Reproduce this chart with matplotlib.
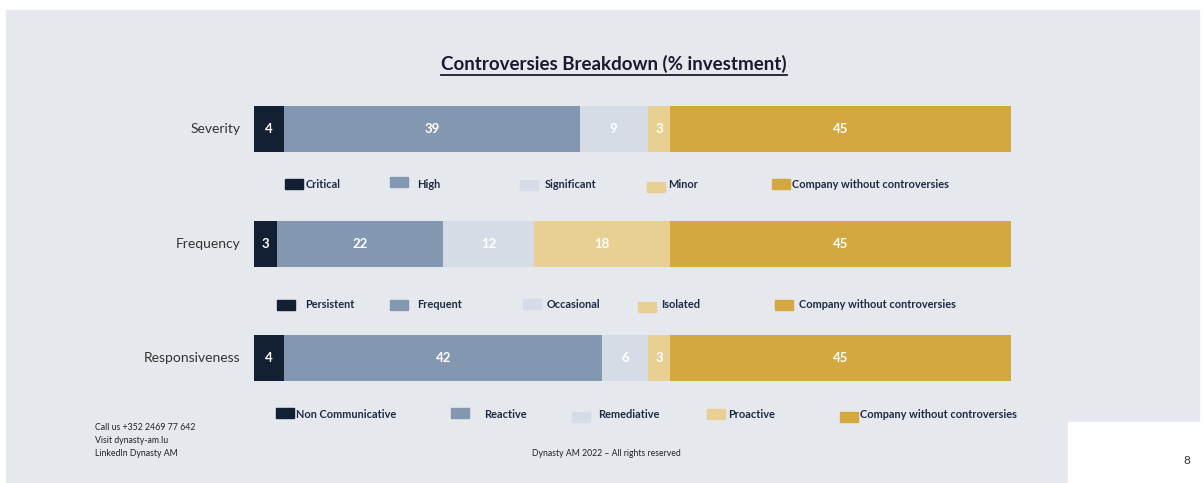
import matplotlib
matplotlib.use("Agg")
import matplotlib.pyplot as plt
from matplotlib.patches import Rectangle
from matplotlib.lines import Line2D

# data
categories = ["Severity", "Frequency", "Responsiveness"]
severity = [4, 39, 9, 3, 45]
frequency = [3, 22, 12, 18, 45]
responsiveness = [4, 42, 6, 3, 45]
values = [severity, frequency, responsiveness]

severity_labels = ["Critical", "High", "Significant", "Minor", "Company without controversies"]
frequency_labels = ["Persistent", "Frequent", "Occasional", "Isolated", "Company without controversies"]
responsiveness_labels = ["Non Communicative", "Reactive", "Remediative", "Proactive",
                         "Company without controversies"]
legend_labels = [severity_labels, frequency_labels, responsiveness_labels]

colors = ["#131f33", "#8497b0", "#d6dce5", "#e8cf92", "#d4a840"]
bg = "#e5e8ed"
W, H = 1203, 483

plt.rcParams["font.family"] = ["Lato", "DejaVu Sans"]

fig = plt.figure(figsize=(W / 100, H / 100), dpi=100)
fig.patch.set_facecolor("white")


def px(x, y):
    return x / W, 1 - y / H


# grey slide background and white page-number box
fig.patches.append(Rectangle(px(6, 483), (1199 - 6) / W, (483 - 10) / H,
                             transform=fig.transFigure, color=bg, zorder=-2))
fig.patches.append(Rectangle(px(1068, 483), (W - 1068) / W, (483 - 422) / H,
                             transform=fig.transFigure, color="white", zorder=-1))

ax = fig.add_axes([254 / W, 0, (1011 - 254) / W, 1])
ax.set_zorder(2)
ax.set_xlim(0, 100)
ax.set_ylim(H, 0)
ax.axis("off")
ax.patch.set_alpha(0)

bar_y = [129, 244, 358]
for yc, cat, vals in zip(bar_y, categories, values):
    left = 0
    for v, c in zip(vals, colors):
        ax.barh(yc, v, left=left, height=46, color=c, edgecolor="none")
        ax.text(left + v / 2, yc, str(v), ha="center", va="center",
                color="white", fontsize=9.5, fontweight="bold")
        left += v
    ax.text(-1.8, yc, cat, ha="right", va="center", color="#333333", fontsize=10)

# legends under each bar
legend_y = [184, 304, 414]
swatch_x = [[285, 390, 520, 647, 772],
            [277, 390, 523, 638, 775],
            [276, 451, 572, 707, 840]]
text_x = [[306, 417, 545, 668, 792],
          [305, 417, 547, 661, 799],
          [296, 484, 598, 728, 860]]
swatch_dy = [[0, -2, 1, 3, 0],
             [1, 1, 0, 3, 1],
             [-1, -1, 3, 0, 3]]
for ly, labels, sxs, txs, dys in zip(legend_y, legend_labels, swatch_x, text_x, swatch_dy):
    for lab, c, sx, tx, dy in zip(labels, colors, sxs, txs, dys):
        fig.patches.append(Rectangle(px(sx, ly + 5 + dy), 18 / W, 10 / H,
                                     transform=fig.transFigure, color=c, zorder=3))
        fig.text(*px(tx, ly + 0.5), lab, ha="left", va="center", fontsize=7.9,
                 fontweight="bold", color="#1f2a44")

# title with underline
title = fig.text(*px(614, 64), "Controversies Breakdown (% investment)", ha="center",
                 va="center", fontsize=13.5, fontweight="bold", color="#1a1a2e")
fig.canvas.draw()
bb = title.get_window_extent(fig.canvas.get_renderer())
uy = bb.y0 - 2
fig.lines.append(Line2D([bb.x0 / W, bb.x1 / W], [uy / H, uy / H],
                        transform=fig.transFigure, color="#1a1a2e", lw=1.3))

# footer
foot = ["Call us +352 2469 77 642", "Visit dynasty-am.lu", "LinkedIn Dynasty AM"]
for i, t in enumerate(foot):
    fig.text(*px(95, 428 + i * 12.5), t, ha="left", va="center", fontsize=6.3, color="#222222")
fig.text(*px(606, 453), "Dynasty AM 2022 \u2013 All rights reserved", ha="center", va="center",
         fontsize=6.2, color="#222222")
fig.text(*px(1187, 461), "8", ha="center", va="center", fontsize=8.5, color="#333333", zorder=5)

fig.savefig("out.png", dpi=100, facecolor=fig.get_facecolor())
